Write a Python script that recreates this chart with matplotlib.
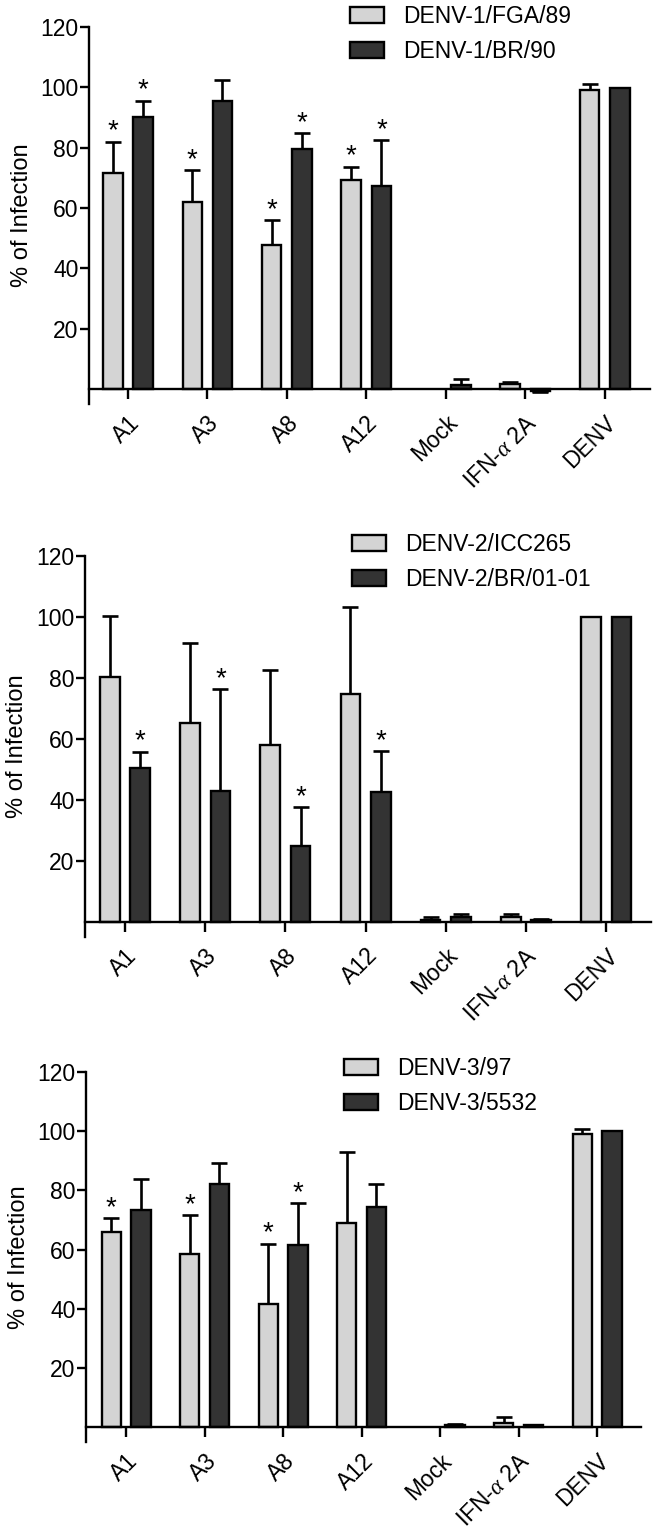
import matplotlib
matplotlib.use("Agg")
import matplotlib.pyplot as plt
from matplotlib.patches import Patch
import matplotlib.transforms as mtransforms
import numpy as np

plt.rcParams['font.family'] = ['Liberation Sans', 'DejaVu Sans']
plt.rcParams['mathtext.fontset'] = 'custom'
plt.rcParams['mathtext.it'] = 'Liberation Serif:italic'

categories = ['A1', 'A3', 'A8', 'A12', 'Mock', 'IFN-$\\mathit{\\alpha}$ 2A', 'DENV']
yticks = [20, 40, 60, 80, 100, 120]

# Panel 1: DENV-1
p1_labels = ['DENV-1/FGA/89', 'DENV-1/BR/90']
p1_light = [71.5, 62.1, 47.6, 69.3, 0.0, 1.6, 99.1]
p1_light_err = [10.5, 10.4, 8.4, 4.4, 0.0, 0.6, 2.0]
p1_dark = [90.0, 95.6, 79.4, 67.2, 1.2, -0.6, 99.8]
p1_dark_err = [5.6, 6.9, 5.3, 15.2, 2.0, 0.3, 0.1]
p1_light_star = [1, 1, 1, 1, 0, 0, 0]
p1_dark_star = [1, 0, 1, 1, 0, 0, 0]

# Panel 2: DENV-2
p2_labels = ['DENV-2/ICC265', 'DENV-2/BR/01-01']
p2_light = [80.2, 65.3, 57.9, 74.8, 0.7, 1.5, 99.9]
p2_light_err = [20.0, 26.3, 24.7, 28.5, 0.8, 1.1, 0.1]
p2_dark = [50.3, 42.9, 24.8, 42.7, 1.4, 0.5, 100.0]
p2_dark_err = [5.5, 33.4, 12.7, 13.3, 1.3, 0.4, 0.0]
p2_light_star = [0, 0, 0, 0, 0, 0, 0]
p2_dark_star = [1, 1, 1, 1, 0, 0, 0]

# Panel 3: DENV-3
p3_labels = ['DENV-3/97', 'DENV-3/5532']
p3_light = [66.0, 58.4, 41.5, 68.9, 0.0, 1.4, 99.1]
p3_light_err = [4.7, 13.2, 20.5, 24.0, 0.0, 2.0, 1.8]
p3_dark = [73.5, 82.1, 61.7, 74.4, 0.8, 0.6, 99.9]
p3_dark_err = [10.2, 7.2, 13.9, 7.8, 0.2, 0.2, 0.0]
p3_light_star = [1, 1, 1, 0, 0, 0, 0]
p3_dark_star = [0, 0, 1, 0, 0, 0, 0]

LIGHT = '#d4d4d4'
DARK = '#333333'
FS = 16.5
W, H = 658, 1536

fig = plt.figure(figsize=(W / 100, H / 100), dpi=100)


def rect(left, right, top, bottom):
    return [left / W, 1 - bottom / H, (right - left) / W, (bottom - top) / H]


def draw_bars(ax, xs, vals, errs, color, bw):
    lws = [0 if v == 0 else 1.7 for v in vals]
    ax.bar(xs, vals, bw, color=color, edgecolor='black', linewidth=lws, zorder=2)
    for xi, v, e in zip(xs, vals, errs):
        if e <= 0:
            continue
        yerr = [[e], [0]] if v < 0 else [[0], [e]]
        ax.errorbar([xi], [v], yerr=yerr, fmt='none', ecolor='black',
                    elinewidth=1.9, capthick=1.9, capsize=5.5, zorder=1.5)


def panel(r, xlim, light, light_err, dark, dark_err, ls, ds, labels, leg_xy):
    ax = fig.add_axes(r)
    x = np.arange(len(categories))
    off, bw = 0.19, 0.245
    draw_bars(ax, x - off, light, light_err, LIGHT, bw)
    draw_bars(ax, x + off, dark, dark_err, DARK, bw)
    for xs, vals, errs, st in ((x - off, light, light_err, ls), (x + off, dark, dark_err, ds)):
        for xi, v, e, s in zip(xs, vals, errs, st):
            if s:
                ax.annotate('*', (xi, v + e), xytext=(0, -2), textcoords='offset points',
                            ha='center', va='bottom', fontsize=20)
    ax.set_xlim(*xlim)
    ax.set_ylim(-5, 120)
    ax.spines['top'].set_visible(False)
    ax.spines['right'].set_visible(False)
    ax.spines['bottom'].set_position(('data', 0))
    ax.spines['left'].set_linewidth(1.7)
    ax.spines['bottom'].set_linewidth(1.7)
    ax.set_yticks(yticks)
    ax.set_yticklabels([str(t) for t in yticks], fontsize=FS)
    ax.set_xticks(x)
    ax.set_xticklabels(categories, fontsize=FS, rotation=45, ha='right',
                       va='top', rotation_mode='anchor')
    shift = mtransforms.ScaledTranslation(3 / 100, 0, fig.dpi_scale_trans)
    for lab in ax.get_xticklabels():
        lab.set_transform(lab.get_transform() + shift)
    ax.tick_params(axis='y', length=6.5, width=1.7, pad=1)
    ax.tick_params(axis='x', length=7, width=1.7, pad=9)
    ax.set_ylabel('% of Infection', fontsize=17)
    ax.yaxis.set_label_coords(-0.10, 0.5)
    handles = [Patch(facecolor=LIGHT, edgecolor='black', linewidth=1.7),
               Patch(facecolor=DARK, edgecolor='black', linewidth=1.7)]
    fig.legend(handles, labels, loc='center left',
               bbox_to_anchor=(leg_xy[0] / W, 1 - leg_xy[1] / H),
               frameon=False, fontsize=16.5, handlelength=1.5, handleheight=0.7,
               handletextpad=0.8, labelspacing=0.55, borderpad=0, borderaxespad=0)
    return ax


panel(rect(89, 650, 27, 404), (-0.49, 6.57), p1_light, p1_light_err,
      p1_dark, p1_dark_err, p1_light_star, p1_dark_star, p1_labels, (350, 34))
panel(rect(85, 651, 556, 937), (-0.50, 6.56), p2_light, p2_light_err,
      p2_dark, p2_dark_err, p2_light_star, p2_dark_star, p2_labels, (352, 562))
panel(rect(86, 641, 1072, 1442), (-0.51, 6.56), p3_light, p3_light_err,
      p3_dark, p3_dark_err, p3_light_star, p3_dark_star, p3_labels, (344, 1086))

fig.savefig('out.png', dpi=100)
